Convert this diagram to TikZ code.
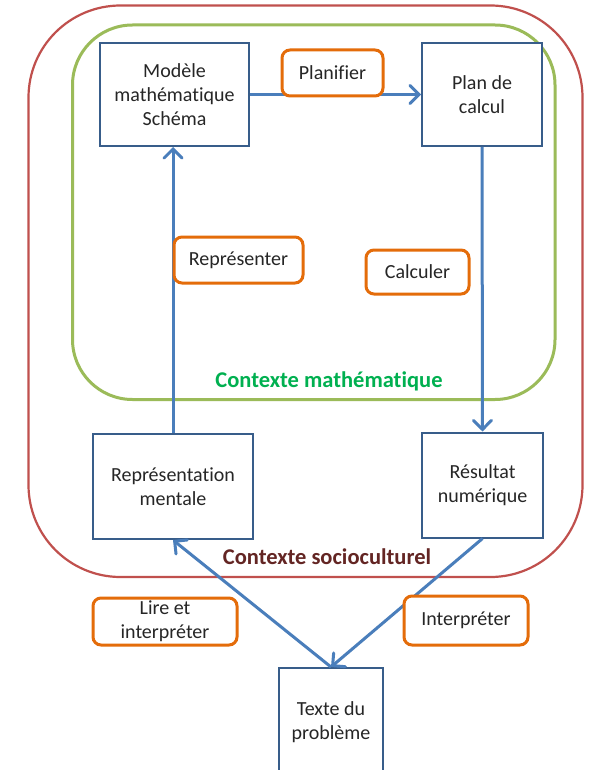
\documentclass[tikz,border=0pt]{standalone}
\usepackage{fontspec}
\setmainfont{Carlito}[Ligatures=CommonOff]
\usetikzlibrary{arrows.meta}
\definecolor{boxblue}{HTML}{385D8A}
\definecolor{arrowblue}{HTML}{4A7EBB}
\definecolor{labelorange}{HTML}{E46C0A}
\definecolor{mathgreen}{HTML}{9BBB59}
\definecolor{socred}{HTML}{C0504D}
\definecolor{greentext}{HTML}{00B050}
\definecolor{redtext}{HTML}{632523}
\definecolor{ink}{HTML}{262626}
\tikzset{
  stage/.style={draw=boxblue, line width=2pt, fill=white, text=ink,
    align=center, inner sep=0pt, font=\fontsize{20}{24}\selectfont},
  action/.style={draw=labelorange, line width=3pt, rounded corners=8pt,
    fill=white, text=ink, align=center, inner sep=0pt,
    font=\fontsize{20}{24}\selectfont},
  flow/.style={draw=arrowblue, line width=3pt,
    -{Straight Barb[length=9pt,width=18pt,line cap=round]}},
  ctx/.style={font=\fontsize{22.5}{26}\selectfont\bfseries, inner sep=0pt}
}
\begin{document}
\begin{tikzpicture}[x=1pt,y=-1pt]
  \useasboundingbox (0,0) rectangle (595,770);
  \clip (0,0) rectangle (595,770);
  \fill[white] (0,0) rectangle (595,770);

  % context frames
  \draw[socred, line width=2.2pt, rounded corners=92pt] (28.5,5.5) rectangle (582.5,577);
  \draw[mathgreen, line width=3pt, rounded corners=60pt] (72.5,25) rectangle (555,399.5);
  \node[ctx, text=greentext] (ctxmath) at (329,381.5) {Contexte mathématique};
  \node[ctx, text=redtext] (ctxsoc) at (327,557) {Contexte socioculturel};

  % stages
  \node[stage, minimum width=149pt, minimum height=103pt] (modele) at (174.5,94.5)
    {Modèle\\mathématique\\Schéma};
  \node[stage, minimum width=120pt, minimum height=103pt] (plan) at (482,94.5)
    {Plan de\\calcul};
  \node[stage, minimum width=160pt, minimum height=105pt] (repr) at (173,486.5)
    {Représentation\\mentale};
  \node[stage, minimum width=121pt, minimum height=105pt] (result) at (482.5,485)
    {Résultat\\numérique};
  \node[stage, minimum width=104pt, minimum height=108pt, anchor=north] (texte) at (331,667)
    {Texte du\\problème};

  % connectors
  \draw[flow] (modele.east) -- (plan.west);
  \draw[flow] (plan.south) -- (result.north);
  \draw[flow] (repr.north) -- (repr.north |- modele.south);
  \draw[flow] (result.south) -- (texte.north);
  \draw[flow] (texte.north) -- (repr.south);

  % actions
  \node[action, minimum width=101pt, minimum height=46pt] (planifier) at (332.5,73) {Planifier};
  \node[action, minimum width=129pt, minimum height=46pt] (representer) at (238.5,260) {Représenter};
  \node[action, minimum width=103pt, minimum height=44pt] (calculer) at (417.5,272) {Calculer};
  \node[action, minimum width=144pt, minimum height=47pt] (lire) at (165,621.5) {Lire et\\interpréter};
  \node[action, minimum width=124pt, minimum height=49pt] (interp) at (466,620.5) {Interpréter};
\end{tikzpicture}
\end{document}
